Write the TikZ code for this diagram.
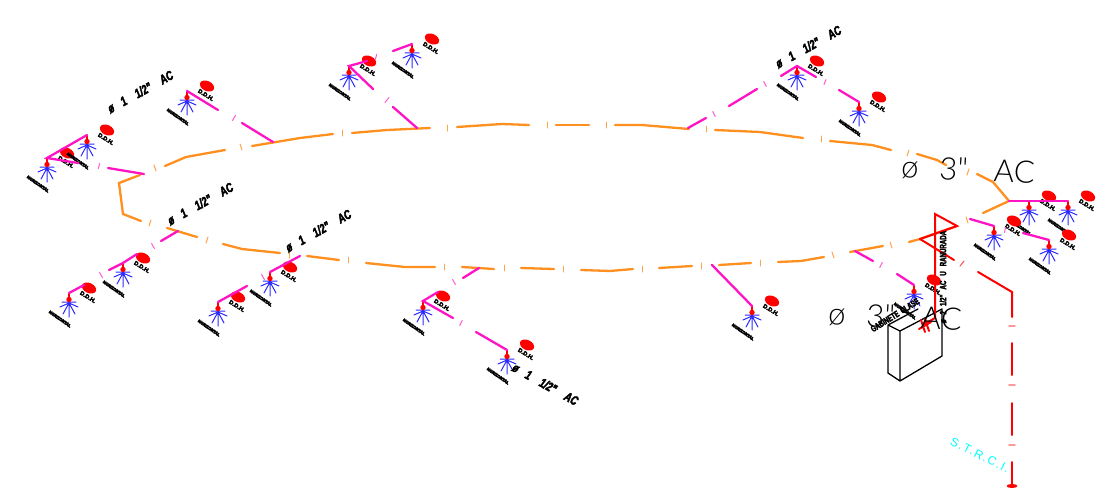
\documentclass[tikz,border=0pt]{standalone}
\usepackage{fontspec}
\usepackage{tikz}
\setmainfont{Liberation Sans}
\newfontfamily\heavyfont[FakeBold=14]{Liberation Sans Bold}
\newfontfamily\ddhfont[FakeBold=5]{Liberation Sans Bold}
\newfontfamily\narrowfont[FakeStretch=0.68,FakeBold=3]{Liberation Sans Bold}
\newfontfamily\tagfont[FakeStretch=0.72,FakeBold=3,FakeSlant=0.12]{Liberation Sans Bold}
\newfontfamily\thinfont{Lato Light}
\newfontfamily\strcifont[LetterSpace=12]{Liberation Sans}
\definecolor{pipeorange}{HTML}{FF8F1F}
\definecolor{pipemagenta}{HTML}{FF14C4}
\definecolor{spray}{HTML}{2A2AFF}
\definecolor{strcicyan}{HTML}{00FFFF}
\newcommand{\smallpipe}{ø\hspace{9pt}1\hspace{11pt}1/2"\hspace{11pt}AC}
\newcommand{\bigpipe}{ø\hspace{21pt}3"\hspace{26pt}AC}

\begin{document}
\begin{tikzpicture}[x=1pt,y=-1pt,line cap=round,
  main pipe/.style={pipeorange,line width=2.3pt},
  branch pipe/.style={pipemagenta,line width=2.3pt},
  red pipe/.style={red,line width=2pt},
  main tick/.style={pipeorange!80,line width=1pt},
  branch tick/.style={pipemagenta!70,line width=1pt},
  red tick/.style={red!40,line width=1.6pt},
  ddh tag/.style={font=\ddhfont\fontsize{5.8}{5.8}\selectfont,rotate=-32,inner sep=0pt},
  head tag/.style={font=\heavyfont\fontsize{4}{4}\selectfont,rotate=-35,inner sep=0pt},
  pipe tag/.style={font=\tagfont\fontsize{13}{13}\selectfont,rotate=29,inner sep=0pt},
  narrow tag/.style={font=\narrowfont\fontsize{9}{9}\selectfont,inner sep=0pt},
  big tag/.style={font=\thinfont\fontsize{31}{31}\selectfont,rotate=-3,inner sep=0pt},
  head/.pic={
    \draw[spray,line width=1pt] (0,10) -- (-9,14) (0,10) -- (9,14) (0,10) -- (-6,21)
      (0,10) -- (6,21) (0,10) -- (0,24) (-7,9) -- (7,9);
    \draw[red,line width=2.4pt] (0,1) -- (0,8);
    \fill[red] (0,6.5) circle [radius=2.7pt];
    \fill[red,shift={(20,-5)},rotate=-25] (0,0) ellipse [x radius=7.5pt,y radius=5pt];
    \node[ddh tag] (-ddh) at (19,4) {D.D.H.};
    \node[head tag] (-hor) at (-9,26) {HORIZONTAL};
  }]
  \useasboundingbox (0,0) rectangle (1115,495);

  \coordinate (h1) at (47,158);
  \coordinate (h2) at (87,135);
  \coordinate (h3) at (187,91);
  \coordinate (h4) at (349,66);
  \coordinate (h5) at (412,44);
  \coordinate (h6) at (797,66);
  \coordinate (h7) at (859,102);
  \coordinate (h8) at (1029,201);
  \coordinate (h9) at (1068,201);
  \coordinate (h10) at (994,226);
  \coordinate (h11) at (1049,240);
  \coordinate (h12) at (69,293);
  \coordinate (h13) at (123,263);
  \coordinate (h14) at (218,302);
  \coordinate (h15) at (270,272);
  \coordinate (h16) at (423,301);
  \coordinate (h17) at (507,350);
  \coordinate (h18) at (752,306);
  \coordinate (h19) at (914,285);

  \foreach \n in {1,...,19}
    \pic (r\n) at (h\n) {head};

  \draw[main pipe] (140,175) -- (119,183) -- (123,214) -- (141,221);
  \draw[main pipe] (165,166) -- (186,157) -- (225,150);
  \draw[main pipe] (252,146) -- (300,138) -- (333,134);
  \draw[main pipe] (352,133) -- (387,130) -- (430,128);
  \draw[main pipe] (457,127) -- (502,124) -- (529,125);
  \draw[main pipe] (556,125) -- (589,125);
  \draw[main pipe] (615,125) -- (642,125) -- (689,129);
  \draw[main pipe] (715,130) -- (760,132) -- (803,138);
  \draw[main pipe] (830,141) -- (872,145) -- (891,150);
  \draw[main pipe] (917,154) -- (937,160) -- (946,165);
  \draw[main pipe] (977,174) -- (993,182) -- (1009,201) -- (983,213);
  \draw[main pipe] (957,226) -- (920,239) -- (909,242);
  \draw[main pipe] (883,246) -- (850,252);
  \draw[main pipe] (824,257) -- (801,261) -- (778,262);
  \draw[main pipe] (751,263) -- (719,265);
  \draw[main pipe] (692,266) -- (659,268);
  \draw[main pipe] (633,269) -- (610,271) -- (581,270);
  \draw[main pipe] (554,269) -- (521,268);
  \draw[main pipe] (494,269) -- (462,267);
  \draw[main pipe] (435,267) -- (405,267) -- (366,263);
  \draw[main pipe] (339,260) -- (307,256);
  \draw[main pipe] (280,253) -- (242,249) -- (223,244);
  \draw[main pipe] (197,237) -- (167,228);

  \foreach \x/\y/\d in {150/223/-1,155/168/1,207/240/-1,241/147/1,289/255/0,342/133/0,
    348/260/0,447/128/0,444/267/0,504/268/0,547/125/0,563/269/0,606/125/0,642/269/0,
    701/266/0,706/129/0,760/263/0,821/139/0,833/255/1,891/245/1,908/153/-1,967/220/1,968/172/-1}
    \draw[main tick] (\x-\d,\y-3) -- (\x+\d,\y+3);

  \draw[branch pipe] (h2) -- (h1) -- (78,163);
  \draw[branch pipe] (108,168) -- (144,174);
  \draw[branch pipe] (h3) -- (218,110);
  \draw[branch pipe] (242,123) -- (273,142);
  \draw[branch pipe] (367,61) -- (h4) -- (373,89);
  \draw[branch pipe] (393,107) -- (417,128);
  \draw[branch pipe] (393,51) -- (h5);
  \draw[branch pipe] (688,128) -- (706,118);
  \draw[branch pipe] (729,106) -- (757,89);
  \draw[branch pipe] (781,76) -- (h6) -- (816,77);
  \draw[branch pipe] (839,90) -- (h7);
  \draw[branch pipe] (1009,201) -- (h8) -- (h9);
  \draw[branch pipe] (970,219) -- (h10);
  \draw[branch pipe] (1023,233) -- (h11);
  \draw[branch pipe] (178,231) -- (161,241);
  \draw[branch pipe] (137,254) -- (h13) -- (109,270);
  \draw[branch pipe] (84,285) -- (h12);
  \draw[branch pipe] (300,256) -- (h15);
  \draw[branch pipe] (247,286) -- (h14);
  \draw[branch pipe] (479,268) -- (463,278);
  \draw[branch pipe] (438,292) -- (h16) -- (453,318);
  \draw[branch pipe] (476,332) -- (h17);
  \draw[branch pipe] (712,265) -- (h18);
  \draw[branch pipe] (855,251) -- (873,261);
  \draw[branch pipe] (897,274) -- (h19);

  \foreach \x/\y/\d in {99/166/-.7,234/118/-1.5,387/100/-2,376/57/-.7,825/82/-1,881/265/-1.3,
    461/323/-1.3,1005/230/-.7,101/275/1.4,153/246/1.4,263/277/1.4,454/282/1.4,714/114/1.3,765/84/1.3}
    \draw[branch tick] (\x-\d,\y-2.5) -- (\x+\d,\y+2.5);

  \draw[black,line width=1.3pt,line join=round] (918,309) -- (888,325) -- (900,331) -- (942,309)
    -- (942,356) -- (900,381) -- (888,373) -- (888,325) (900,331) -- (900,381);

  \draw[red pipe,line join=miter] (923,325) -- (935,318) -- (935,214) -- (957,226) -- (920,239);
  \draw[red pipe] (920,239) -- (954,260);
  \draw[red pipe] (978,272) -- (1012,292) -- (1012,317);
  \draw[red pipe] (1012,343) -- (1012,375);
  \draw[red pipe] (1012,403) -- (1012,435);
  \draw[red pipe] (1012,462) -- (1012,486);
  \draw[red pipe] (921,320) -- (925,332) (925,319) -- (929,331) (919,329) -- (931,322);
  \fill[red] (1012,486) ellipse [x radius=5.5pt,y radius=2pt];
  \draw[branch tick,red!70] (960,266) -- (964,261);
  \foreach \y in {326,385,445}
    \draw[red tick] (1009,\y) -- (1015,\y);

  \node[pipe tag] (tag1) at (140,92) {\smallpipe};
  \node[pipe tag] (tag2) at (200,204) {\smallpipe};
  \node[pipe tag] (tag3) at (318,231) {\smallpipe};
  \node[pipe tag] (tag4) at (808,47) {\smallpipe};
  \node[pipe tag,rotate=-58] (tag5) at (545,384) {\smallpipe};
  \node[big tag] (big1) at (968,170) {\bigpipe};
  \node[big tag] (big2) at (895,317) {\bigpipe};
  \node[narrow tag,rotate=90] (riser) at (943,277)
    {ø\hspace{5pt}2\hspace{5pt}1/2"\hspace{5pt}AC\hspace{5pt}U\hspace{5pt}RANURADA};
  \node[narrow tag,rotate=32] (cabinet) at (895,315) {GABINETE\hspace{3pt}CLASE};
  \node[font=\strcifont\fontsize{12}{12}\selectfont,strcicyan,rotate=-27,inner sep=0pt] (strci) at (980,455)
    {S.T.R.C.I.};
\end{tikzpicture}
\end{document}
